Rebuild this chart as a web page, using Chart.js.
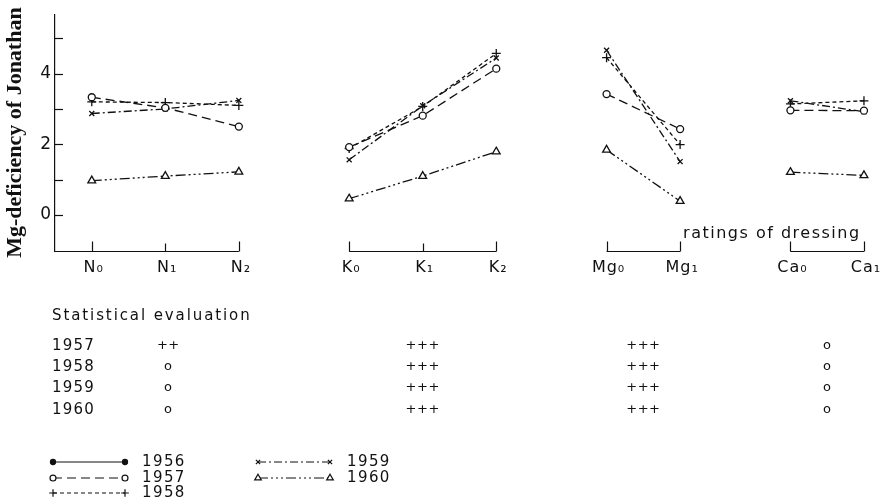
<!DOCTYPE html>
<html><head><meta charset="utf-8">
<script src="https://cdn.jsdelivr.net/npm/chart.js@4/dist/chart.umd.min.js"></script>
<style>html,body{margin:0;padding:0;background:#fff}#wrap{width:881px;height:502px;position:relative}</style>
</head><body><div id="wrap"><canvas id="c"></canvas></div>
<script>
// ---- data ----
const categories = ['N₀','N₁','N₂','K₀','K₁','K₂','Mg₀','Mg₁','Ca₀','Ca₁'];
const categoryGroup = [0,0,0,1,1,1,2,2,3,3];
const years = ['1956','1957','1958','1959','1960'];
const values1956 = [null,null,null,null,null,null,null,null,null,null];
const values1957 = [3.33,3.03,2.50,1.92,2.81,4.14,3.42,2.43,2.96,2.95];
const values1958 = [3.20,3.18,3.10,1.88,3.07,4.57,4.45,1.99,3.14,3.23];
const values1959 = [2.87,3.00,3.24,1.56,3.09,4.44,4.66,1.51,3.23,2.92];
const values1960 = [0.97,1.10,1.22,0.46,1.10,1.79,1.84,0.39,1.21,1.12];
const yTickLabels = ['0','2','4'];
const axisTitle = 'Mg-deficiency of Jonathan';
const dressingLabel = 'ratings of dressing';
const statTitle = 'Statistical evaluation';
const statYears = ['1957','1958','1959','1960'];
const statN  = ['++','o','o','o'];
const statK  = ['+++','+++','+++','+++'];
const statMg = ['+++','+++','+++','+++'];
const statCa = ['o','o','o','o'];

// ---- helpers ----
const slot = i => 2*i + categoryGroup[i];
function seriesPoints(vals){
  const pts=[];
  vals.forEach((v,i)=>{
    if(i>0 && categoryGroup[i]!==categoryGroup[i-1]) pts.push({x:slot(i)-1,y:null});
    pts.push({x:slot(i),y:v});
  });
  return pts;
}
const INK='#111';
const styles = {
  '1956':{pointStyle:'circle',fill:INK,dash:[],r:3},
  '1957':{pointStyle:'circle',fill:'#fff',dash:[9,5],r:3.5},
  '1958':{pointStyle:'cross',fill:'#fff',dash:[4,3],r:4.5},
  '1959':{pointStyle:'crossRot',fill:'#fff',dash:[8,3,2,3],r:3.5},
  '1960':{pointStyle:'triangle',fill:'#fff',dash:[10,3,2,3,2,3,2,3],r:4.5}
};
const seriesValues = [values1956,values1957,values1958,values1959,values1960];
const datasets = years.map((yr,k)=>({
  label: yr,
  data: seriesPoints(seriesValues[k]),
  borderColor: INK, borderWidth: 1.3, borderDash: styles[yr].dash,
  pointStyle: styles[yr].pointStyle, pointRadius: styles[yr].r,
  pointBorderColor: INK, pointBackgroundColor: styles[yr].fill, pointBorderWidth: 1.3,
  spanGaps: false, showLine: true, tension: 0, clip: false
}));

function spaced(ctx, px){ if('letterSpacing' in ctx) ctx.letterSpacing = px+'px'; }

const decor = {
  id:'decor',
  afterDraw(chart){
    const ctx=chart.ctx, xs=chart.scales.x, ys=chart.scales.y, ca=chart.chartArea;
    const base = Math.round(ca.bottom)+0.5;
    ctx.save();
    ctx.strokeStyle=INK; ctx.fillStyle=INK; ctx.lineWidth=1.2; ctx.setLineDash([]);
    const line=(a,b,c,d)=>{ctx.beginPath();ctx.moveTo(a,b);ctx.lineTo(c,d);ctx.stroke();};
    // inward y ticks
    for(let v=0; v<=5; v++){ const y=Math.round(ys.getPixelForValue(v))+0.5; line(ca.left,y,ca.left+8,y); }
    // category brackets
    const groups=[...new Set(categoryGroup)];
    groups.forEach(g=>{
      const idx=categories.map((c,i)=>i).filter(i=>categoryGroup[i]===g);
      const x0=xs.getPixelForValue(slot(idx[0])), x1=xs.getPixelForValue(slot(idx[idx.length-1]));
      line(g===0?ca.left:x0, base, x1, base);
      idx.forEach((i,j)=>{
        const x=Math.round(xs.getPixelForValue(slot(i)))+0.5;
        const h=(j===0||j===idx.length-1)?10:8;
        line(x,base,x,base-h);
      });
    });
    // category labels
    ctx.font='16px "DejaVu Sans"'; ctx.textAlign='center'; ctx.textBaseline='alphabetic'; spaced(ctx,1);
    categories.forEach((c,i)=>ctx.fillText(c, xs.getPixelForValue(slot(i))+2, base+20));
    // ratings of dressing
    ctx.textAlign='left'; ctx.font='16px "DejaVu Sans"'; spaced(ctx,1.5);
    ctx.fillText(dressingLabel, xs.getPixelForValue(slot(7))+3, base-14);
    // statistical evaluation
    ctx.font='15px "DejaVu Sans"'; spaced(ctx,1.9);
    ctx.fillText(statTitle, 52, 320);
    const rowY=[346,367,388,410];
    const colX=[
      (xs.getPixelForValue(slot(1))+3),
      xs.getPixelForValue(slot(4)),
      (xs.getPixelForValue(slot(6))+xs.getPixelForValue(slot(7)))/2,
      (xs.getPixelForValue(slot(8))+xs.getPixelForValue(slot(9)))/2
    ];
    const cols=[statN,statK,statMg,statCa];
    statYears.forEach((yr,r)=>{
      ctx.textAlign='left'; ctx.textBaseline='middle'; ctx.font='15px "DejaVu Sans"'; spaced(ctx,1.2);
      ctx.fillText(yr,52,rowY[r]);
      ctx.textAlign='center'; ctx.font='13px "DejaVu Sans"'; spaced(ctx,0.5);
      cols.forEach((col,c)=>ctx.fillText(col[r],colX[c],rowY[r]));
    });
    // legend
    const legPos={'1956':[53,462],'1957':[53,478],'1958':[53,493],'1959':[258,462],'1960':[258,478]};
    years.forEach(yr=>{
      const [x,y]=legPos[yr], st=styles[yr], x2=x+72;
      ctx.setLineDash(st.dash); ctx.lineWidth=1.2; line(x,y,x2,y); ctx.setLineDash([]);
      [x,x2].forEach(px=>{
        ctx.fillStyle=st.fill; ctx.strokeStyle=INK;
        Chart.helpers.drawPoint(ctx,{pointStyle:st.pointStyle,radius:st.r*0.85,rotation:0,borderWidth:1.2},px,y);
      });
      ctx.fillStyle=INK; ctx.textAlign='left'; ctx.textBaseline='middle'; ctx.font='15px "DejaVu Sans"'; spaced(ctx,1.4);
      ctx.fillText(yr,x2+17,y);
    });
    ctx.restore();
  }
};

new Chart(document.getElementById('c'),{
  type:'line',
  data:{datasets},
  options:{
    responsive:true, maintainAspectRatio:false, animation:false,
    layout:{padding:{left:0,top:8,right:6,bottom:251}},
    plugins:{legend:{display:false},tooltip:{enabled:false}},
    scales:{
      x:{type:'linear',min:-1,max:21.3,display:false},
      y:{type:'linear',min:-1.02,max:5.68,
        afterFit:s=>{s.width=55;},
        grid:{display:false,drawTicks:false},
        border:{display:true,color:INK,width:1.2},
        ticks:{stepSize:1,padding:4,color:INK,font:{family:'DejaVu Sans',size:17},
          autoSkip:false,
          callback:v=>yTickLabels.includes(String(v))?String(v):''},
        title:{display:true,text:axisTitle,color:INK,padding:{top:2,bottom:0},
          font:{family:'Liberation Serif',weight:'bold',size:22}}
      }
    }
  },
  plugins:[decor]
});
</script></body></html>
